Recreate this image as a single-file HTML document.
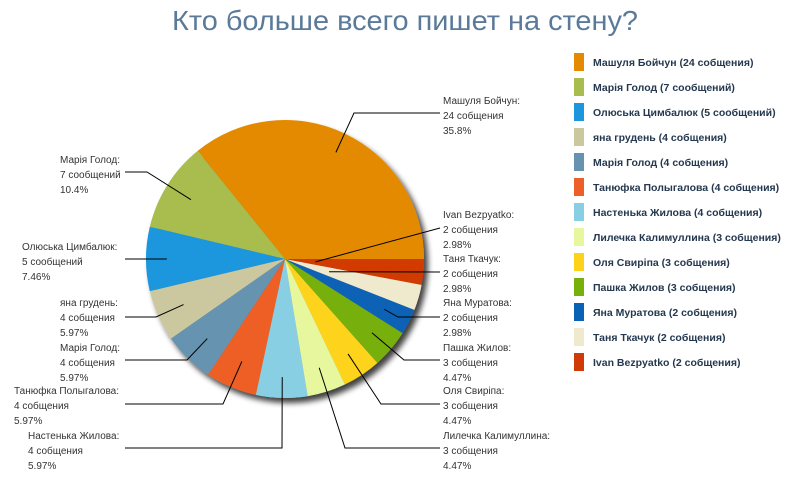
<!DOCTYPE html>
<html><head><meta charset="utf-8"><style>
body{margin:0;background:#fff;}
svg{display:block;font-family:"Liberation Sans","DejaVu Sans",sans-serif;}
</style></head><body>
<svg id="chart" width="800" height="500" viewBox="0 0 800 500">
<defs><filter id="sh" x="-20%" y="-20%" width="150%" height="150%"><feGaussianBlur in="SourceAlpha" stdDeviation="3"/><feOffset dx="4" dy="5"/><feComponentTransfer><feFuncA type="linear" slope="0.75"/></feComponentTransfer><feMerge><feMergeNode/><feMergeNode in="SourceGraphic"/></feMerge></filter></defs>
<text x="405" y="30" text-anchor="middle" font-size="28" fill="#5b7a9a" textLength="466" lengthAdjust="spacingAndGlyphs">Кто больше всего пишет на стену?</text>
<g id="pie" filter="url(#sh)"></g>
<g id="labels"></g>
<g id="legend"></g>
</svg>
<script>
const names = ["Машуля Бойчун","Марія Голод","Олюська Цимбалюк","яна грудень","Марія Голод","Танюфка Полыгалова","Настенька Жилова","Лилечка Калимуллина","Оля Свиріпа","Пашка Жилов","Яна Муратова","Таня Ткачук","Ivan Bezpyatko"];
const counts = [24,7,5,4,4,4,4,3,3,3,2,2,2];
const units = ["собщения","сообщений","сообщений","собщения","собщения","собщения","собщения","собщения","собщения","собщения","собщения","собщения","собщения"];
const colors = ["#e48a00","#a8bd4e","#1e96dc","#cbc8a0","#6693b0","#ee5f28","#88cfe4","#e6f79e","#fdd31a","#77b00b","#0a62b6","#efe9cd","#d13a05"];
// label layout (styling): side, text x, middle-line y, knee x, knee y, inner radius factor, line end x
const layout = [
 ["r",443,115,354,113,0.85,440],["l",60,174,147,172,0.8,125],["l",22,261,140,259,0.85,125],["l",60,317,156,317,0.8,125],
 ["l",60,362,187,360,0.8,125],["l",14,405,223,404,0.8,125],["l",28,450,282,448,0.85,125],["r",443,450,345,448,0.82,440],
 ["r",443,405,381,404,0.82,440],["r",443,362,404,360,0.82,440],["r",443,317,398,317,0.8,440],["r",443,273,440,272,0.33,440],["r",443,229,440,228,0.22,440]];
const NS="http://www.w3.org/2000/svg";
const cx=285, cy=259, R=139;
const total=counts.reduce((a,b)=>a+b,0);
const pie=document.getElementById('pie'), lab=document.getElementById('labels'), leg=document.getElementById('legend');
function mk(t,a,p){const e=document.createElementNS(NS,t);for(const k in a)e.setAttribute(k,a[k]);p.appendChild(e);return e;}
let ang=0;
counts.forEach((v,i)=>{
  const a0=ang, a1=ang+v/total*2*Math.PI; ang=a1;
  const x0=cx+R*Math.cos(a0), y0=cy-R*Math.sin(a0), x1=cx+R*Math.cos(a1), y1=cy-R*Math.sin(a1);
  const large=(a1-a0)>Math.PI?1:0;
  const p=mk('path',{d:`M${cx},${cy} L${x0},${y0} A${R},${R} 0 ${large} 0 ${x1},${y1} Z`,fill:colors[i]},pie);
  
  
  const L=layout[i], am=(a0+a1)/2;
  const ix=cx+R*L[5]*Math.cos(am), iy=cy-R*L[5]*Math.sin(am);
  const ln=mk('polyline',{points:`${ix},${iy} ${L[3]},${L[4]} ${L[6]},${L[4]}`,fill:'none',stroke:'#000','stroke-width':1},lab);
  
  
  const pct=v/total*100, d=pct>=10?1:2;
  const lines=[names[i]+":",v+" "+units[i],(Math.floor(pct*Math.pow(10,d)+1e-9)/Math.pow(10,d))+"%"];
  const t=mk('text',{x:L[1],y:L[2]-11,'font-size':10,fill:'#333'},lab);
  
  
  lines.forEach((s,k)=>{const ts=mk('tspan',{x:L[1],dy:k?15:0},t);ts.textContent=s;});
  const ly=62+i*25;
  const sw=mk('rect',{x:574,y:ly-9,width:10,height:18,fill:colors[i]},leg);
  
  
  const lt=mk('text',{x:593,y:ly+4,'font-size':10.5,'font-weight':'bold',fill:'#24384f'},leg);
  
  
  lt.textContent=names[i]+" ("+v+" "+units[i]+")";
});
</script>
</body></html>
